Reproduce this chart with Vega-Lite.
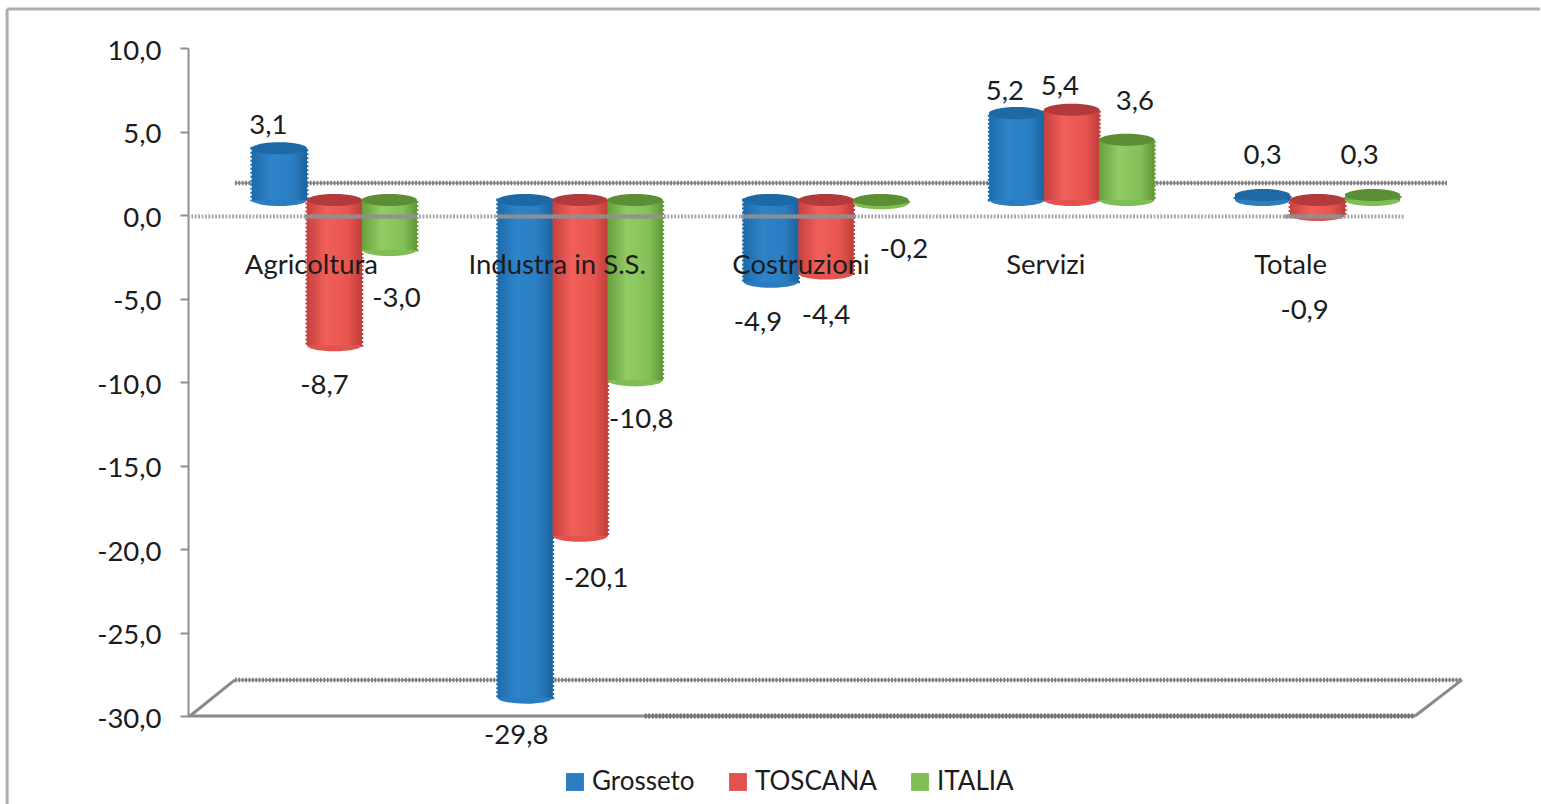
{
"$schema":"https://vega.github.io/schema/vega-lite/v6.json",
"width":1229,"height":668,
"autosize":{"type":"none"},
"padding":{"left":188,"top":48,"right":124,"bottom":88},
"background":"#ffffff",
"config":{"view":{"stroke":null},"text":{"font":"Lato","fontSize":27.5,"fill":"#1c1c1c"},"axis":{"labelFont":"Lato"},"legend":{"labelFont":"Lato"}},
"datasets":{
"bars":[
{"id":"a1","cat":"Agricoltura","serie":"Grosseto","value":3.1,"label":"3,1"},
{"id":"a2","cat":"Agricoltura","serie":"TOSCANA","value":-8.7,"label":"-8,7"},
{"id":"a3","cat":"Agricoltura","serie":"ITALIA","value":-3.0,"label":"-3,0"},
{"id":"b1","cat":"Industra in S.S.","serie":"Grosseto","value":-29.8,"label":"-29,8"},
{"id":"b2","cat":"Industra in S.S.","serie":"TOSCANA","value":-20.1,"label":"-20,1"},
{"id":"b3","cat":"Industra in S.S.","serie":"ITALIA","value":-10.8,"label":"-10,8"},
{"id":"c1","cat":"Costruzioni","serie":"Grosseto","value":-4.9,"label":"-4,9"},
{"id":"c2","cat":"Costruzioni","serie":"TOSCANA","value":-4.4,"label":"-4,4"},
{"id":"c3","cat":"Costruzioni","serie":"ITALIA","value":-0.2,"label":"-0,2"},
{"id":"d1","cat":"Servizi","serie":"Grosseto","value":5.2,"label":"5,2"},
{"id":"d2","cat":"Servizi","serie":"TOSCANA","value":5.4,"label":"5,4"},
{"id":"d3","cat":"Servizi","serie":"ITALIA","value":3.6,"label":"3,6"},
{"id":"e1","cat":"Totale","serie":"Grosseto","value":0.3,"label":"0,3"},
{"id":"e2","cat":"Totale","serie":"TOSCANA","value":-0.9,"label":"-0,9"},
{"id":"e3","cat":"Totale","serie":"ITALIA","value":0.3,"label":"0,3"}
],
"back":[
{"u":-0.736,"u2":-0.736,"v":12.335,"v2":-35.3,"k":"frame"},
{"u":-0.736,"u2":5.5,"v":12.335,"v2":12.335,"k":"frame"},
{"u":0.191,"u2":5.122,"v":1.916,"v2":1.916,"k":"wall"},
{"u":0.191,"u2":5.183,"v":-27.84,"v2":-27.84,"k":"wall"},
{"u":0.008,"u2":0.191,"v":-30,"v2":-27.84,"k":"diag"},
{"u":4.992,"u2":5.183,"v":-30,"v2":-27.84,"k":"diag"},
{"u":0,"u2":4.947,"v":-0.09,"v2":-0.09,"k":"zero"},
{"u":0.476,"u2":0.931,"v":-0.09,"v2":-0.09,"k":"zerobar"},
{"u":1.257,"u2":1.932,"v":-0.09,"v2":-0.09,"k":"zerobar"},
{"u":2.25,"u2":2.714,"v":-0.09,"v2":-0.09,"k":"zerobar"},
{"u":4.46,"u2":4.7,"v":-0.09,"v2":-0.09,"k":"zerobar"},
{"u":0,"u2":4.992,"v":-30,"v2":-30,"k":"floor"},
{"u":1.858,"u2":4.992,"v":-30,"v2":-30,"k":"floordark"}
]
},
"resolve":{"scale":{"x":"independent","y":"independent"}},
"layer":[
{"data":{"name":"back"},"transform":[{"filter":"datum.k=='frame'"}],
 "mark":{"type":"rule","color":"#aeaeb2","strokeWidth":3},
 "encoding":{"x":{"field":"u","type":"quantitative","scale":{"domain":[0,5],"nice":false,"zero":false},"axis":null},"x2":{"field":"u2"},
  "y":{"field":"v","type":"quantitative","scale":{"domain":[-30,10],"nice":false,"zero":false},
   "axis":{"title":null,"values":[10,5,0,-5,-10,-15,-20,-25,-30],"labelExpr":"replace(replace(format(datum.value,'.1f'),'.',','),'−','-')","labelFontSize":27.5,"labelColor":"#1c1c1c","labelPadding":19,"labelOffset":3,"tickSize":8,"tickWidth":2,"tickColor":"#8f8f8f","domainColor":"#8f8f8f","domainWidth":2,"grid":false}},
  "y2":{"field":"v2"}}},
{"data":{"name":"back"},"transform":[{"filter":"datum.k=='wall'"}],
 "mark":{"type":"rule","color":"#a8a8a8","strokeWidth":2},
 "encoding":{"x":{"field":"u","type":"quantitative","scale":{"domain":[0,5],"nice":false,"zero":false},"axis":null},"x2":{"field":"u2"},
  "y":{"field":"v","type":"quantitative","scale":{"domain":[-30,10],"nice":false,"zero":false},"axis":null},"y2":{"field":"v2"}}},
{"data":{"name":"back"},"transform":[{"filter":"datum.k=='wall'"}],
 "mark":{"type":"rule","color":"#7c7c7c","strokeWidth":4.5,"strokeDash":[1.8,1.6]},
 "encoding":{"x":{"field":"u","type":"quantitative","scale":{"domain":[0,5],"nice":false,"zero":false},"axis":null},"x2":{"field":"u2"},
  "y":{"field":"v","type":"quantitative","scale":{"domain":[-30,10],"nice":false,"zero":false},"axis":null},"y2":{"field":"v2"}}},
{"data":{"name":"bars"},
 "encoding":{
  "x":{"field":"cat","type":"nominal","sort":null,"scale":{"domain":["Agricoltura","Industra in S.S.","Costruzioni","Servizi","Totale"],"range":[23.5,1252.5],"paddingInner":0,"paddingOuter":0},"axis":null},
  "xOffset":{"field":"serie","type":"nominal","scale":{"domain":["Grosseto","TOSCANA","ITALIA"],"paddingInner":0,"paddingOuter":0.735}},
  "y":{"field":"value","type":"quantitative","scale":{"domain":[-30.9,9.1],"nice":false,"zero":false},"axis":null}
 },
 "layer":[
  {"mark":{"type":"bar","strokeWidth":3,"strokeDash":[2,2]},"encoding":{
    "stroke":{"field":"serie","type":"nominal","scale":{"domain":["Grosseto","TOSCANA","ITALIA"],"range":["#1d6cab","#c8413e","#66a03c"]},"legend":null},
    "color":{"field":"serie","type":"nominal","scale":{"domain":["Grosseto","TOSCANA","ITALIA"],"range":["#2a7dc1","#e2524e","#7fbe55"]},
    "legend":{"title":null,"orient":"none","legendX":374,"legendY":721,"direction":"horizontal","labelFontSize":26,"labelColor":"#1c1c1c","symbolType":"square","symbolSize":320,"symbolStrokeWidth":0,"columnPadding":30,"labelOffset":4}}}},
  {"transform":[{"filter":"datum.value<0"}],"mark":{"type":"point","filled":true,"opacity":1,"shape":"M-1,0A1,0.22 0 1,0 1,0A1,0.22 0 1,0 -1,0Z","size":3025},
   "encoding":{"color":{"field":"serie","type":"nominal","legend":null}}},
  {"transform":[{"filter":"datum.value>0"}],"mark":{"type":"point","filled":true,"opacity":1,"shape":"M-1,0A1,0.22 0 1,0 1,0A1,0.22 0 1,0 -1,0Z","size":3025},
   "encoding":{"y":{"datum":0},"color":{"field":"serie","type":"nominal","legend":null}}},
  {"transform":[{"filter":"datum.serie=='Grosseto'"}],"mark":{"type":"bar","color":{"gradient":"linear","x1":0,"x2":1,"y1":0,"y2":0,"stops":[{"offset":0,"color":"#1d6cab"},{"offset":0.35,"color":"#2e84c9"},{"offset":0.75,"color":"#2a7dc1"},{"offset":1,"color":"#1b639d"}]}}},
  {"transform":[{"filter":"datum.serie=='TOSCANA'"}],"mark":{"type":"bar","color":{"gradient":"linear","x1":0,"x2":1,"y1":0,"y2":0,"stops":[{"offset":0,"color":"#c8413e"},{"offset":0.35,"color":"#f05f5a"},{"offset":0.75,"color":"#e8554f"},{"offset":1,"color":"#bf3d3a"}]}}},
  {"transform":[{"filter":"datum.serie=='ITALIA'"}],"mark":{"type":"bar","color":{"gradient":"linear","x1":0,"x2":1,"y1":0,"y2":0,"stops":[{"offset":0,"color":"#66a03c"},{"offset":0.35,"color":"#92cb64"},{"offset":0.75,"color":"#84c058"},{"offset":1,"color":"#5f9637"}]}}},
  {"transform":[{"filter":"datum.value>0"}],"mark":{"type":"point","filled":true,"opacity":1,"shape":"M-1,0A1,0.22 0 1,0 1,0A1,0.22 0 1,0 -1,0Z","size":3025},
   "encoding":{"fill":{"field":"serie","type":"nominal","scale":{"domain":["Grosseto","TOSCANA","ITALIA"],"range":["#1c69a6","#b33a3c","#5c8f35"]},"legend":null}}},
  {"transform":[{"filter":"datum.value<0"}],"mark":{"type":"point","filled":true,"opacity":1,"shape":"M-1,0A1,0.22 0 1,0 1,0A1,0.22 0 1,0 -1,0Z","size":3025},
   "encoding":{"y":{"datum":0},"fill":{"field":"serie","type":"nominal","legend":null}}},
  {"transform":[{"filter":"datum.id=='a2'||datum.id=='b2'"}],"mark":{"type":"text","dx":-23,"dy":66},"encoding":{"y":{"datum":0},"text":{"field":"cat"}}},
  {"transform":[{"filter":"datum.id=='c2'"}],"mark":{"type":"text","dx":-25,"dy":66},"encoding":{"y":{"datum":0},"text":{"field":"cat"}}},
  {"transform":[{"filter":"datum.id=='d2'"}],"mark":{"type":"text","dx":-26,"dy":66},"encoding":{"y":{"datum":0},"text":{"field":"cat"}}},
  {"transform":[{"filter":"datum.id=='e2'"}],"mark":{"type":"text","dx":-27,"dy":66},"encoding":{"y":{"datum":0},"text":{"field":"cat"}}},
  {"transform":[{"filter":"datum.id=='a1'"}],"mark":{"type":"text","dx":-11,"dy":-22},"encoding":{"text":{"field":"label"}}},
  {"transform":[{"filter":"datum.id=='a2'"}],"mark":{"type":"text","dx":-10,"dy":41},"encoding":{"text":{"field":"label"}}},
  {"transform":[{"filter":"datum.id=='a3'"}],"mark":{"type":"text","dx":7,"dy":49},"encoding":{"text":{"field":"label"}}},
  {"transform":[{"filter":"datum.id=='b1'"}],"mark":{"type":"text","dx":-9,"dy":38},"encoding":{"text":{"field":"label"}}},
  {"transform":[{"filter":"datum.id=='b2'"}],"mark":{"type":"text","dx":16,"dy":43},"encoding":{"text":{"field":"label"}}},
  {"transform":[{"filter":"datum.id=='b3'"}],"mark":{"type":"text","dx":6,"dy":40},"encoding":{"text":{"field":"label"}}},
  {"transform":[{"filter":"datum.id=='c1'"}],"mark":{"type":"text","dx":-13,"dy":41},"encoding":{"text":{"field":"label"}}},
  {"transform":[{"filter":"datum.id=='c2'"}],"mark":{"type":"text","dx":0,"dy":43},"encoding":{"text":{"field":"label"}}},
  {"transform":[{"filter":"datum.id=='c3'"}],"mark":{"type":"text","dx":23,"dy":47},"encoding":{"text":{"field":"label"}}},
  {"transform":[{"filter":"datum.id=='d1'"}],"mark":{"type":"text","dx":-12,"dy":-21},"encoding":{"text":{"field":"label"}}},
  {"transform":[{"filter":"datum.id=='d2'"}],"mark":{"type":"text","dx":-12,"dy":-23},"encoding":{"text":{"field":"label"}}},
  {"transform":[{"filter":"datum.id=='d3'"}],"mark":{"type":"text","dx":8,"dy":-38},"encoding":{"text":{"field":"label"}}},
  {"transform":[{"filter":"datum.id=='e1'"}],"mark":{"type":"text","dx":0,"dy":-39},"encoding":{"text":{"field":"label"}}},
  {"transform":[{"filter":"datum.id=='e2'"}],"mark":{"type":"text","dx":-13,"dy":96},"encoding":{"text":{"field":"label"}}},
  {"transform":[{"filter":"datum.id=='e3'"}],"mark":{"type":"text","dx":-13,"dy":-39},"encoding":{"text":{"field":"label"}}}
 ]},
{"data":{"name":"back"},"transform":[{"filter":"datum.k=='zero'"}],
 "mark":{"type":"rule","color":"#a3a3a3","strokeWidth":4,"strokeDash":[1.8,1.6]},
 "encoding":{"x":{"field":"u","type":"quantitative","scale":{"domain":[0,5],"nice":false,"zero":false},"axis":null},"x2":{"field":"u2"},
  "y":{"field":"v","type":"quantitative","scale":{"domain":[-30,10],"nice":false,"zero":false},"axis":null},"y2":{"field":"v2"}}},
{"data":{"name":"back"},"transform":[{"filter":"datum.k=='zerobar'"}],
 "mark":{"type":"rule","color":"#8e8e8e","strokeWidth":4,"opacity":0.85},
 "encoding":{"x":{"field":"u","type":"quantitative","scale":{"domain":[0,5],"nice":false,"zero":false},"axis":null},"x2":{"field":"u2"},
  "y":{"field":"v","type":"quantitative","scale":{"domain":[-30,10],"nice":false,"zero":false},"axis":null},"y2":{"field":"v2"}}},
{"data":{"name":"back"},"transform":[{"filter":"datum.k=='floor'||datum.k=='diag'"}],
 "mark":{"type":"rule","color":"#8a8a8a","strokeWidth":3},
 "encoding":{"x":{"field":"u","type":"quantitative","scale":{"domain":[0,5],"nice":false,"zero":false},"axis":null},"x2":{"field":"u2"},
  "y":{"field":"v","type":"quantitative","scale":{"domain":[-30,10],"nice":false,"zero":false},"axis":null},"y2":{"field":"v2"}}},
{"data":{"name":"back"},"transform":[{"filter":"datum.k=='floordark'"}],
 "mark":{"type":"rule","color":"#6e6e6e","strokeWidth":5,"strokeDash":[2,1.5]},
 "encoding":{"x":{"field":"u","type":"quantitative","scale":{"domain":[0,5],"nice":false,"zero":false},"axis":null},"x2":{"field":"u2"},
  "y":{"field":"v","type":"quantitative","scale":{"domain":[-30,10],"nice":false,"zero":false},"axis":null},"y2":{"field":"v2"}}}
]
}
